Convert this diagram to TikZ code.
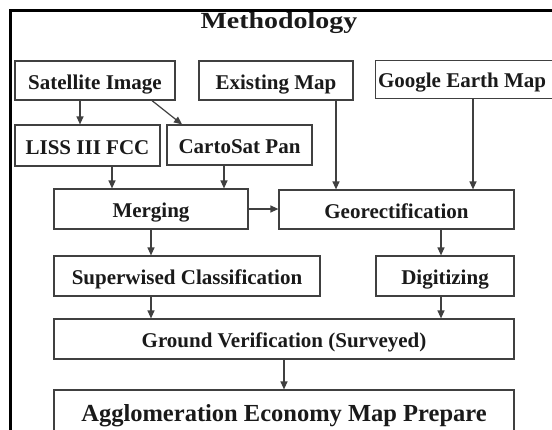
\documentclass[tikz,border=0pt]{standalone}
\usepackage{fontspec}
\setmainfont{Liberation Serif}
\usetikzlibrary{arrows.meta}
\definecolor{ink}{HTML}{1A1A1A}
\definecolor{edge}{HTML}{404040}
\tikzset{
  box/.style={draw=edge, line width=1.2pt, text=ink, font=\fontsize{21}{24}\selectfont\bfseries,
    inner sep=0pt, anchor=center, text height=17pt, text depth=0pt},
  arr/.style={draw=edge, line width=1.2pt, -{Triangle[length=8pt,width=7pt]}},
  frame/.style={draw=black, line width=3pt}
}
\begin{document}
\begin{tikzpicture}[x=1pt,y=-1pt]
\useasboundingbox (0,0) rectangle (552,429);
\clip (0,0) rectangle (552,429);
\fill[white] (0,0) rectangle (552,429);
% frame
\coordinate (ftl) at (10,10);
\coordinate (ftr) at (560,10);
\coordinate (fbl) at (10,440);
\draw[frame] (ftr) -- (ftl) -- (fbl);
% title
\node[text=ink, font=\fontsize{22}{26}\selectfont\bfseries, inner sep=0pt, anchor=base] (title) at (279,28) {\scalebox{1.27}[1.05]{Methodology}};
% boxes
\node[box, minimum width=160pt, minimum height=39pt] (sat) at (95,80.5) {Satellite Image};
\node[box, minimum width=154pt, minimum height=39pt] (exist) at (276,80.5) {Existing Map};
\node[box, draw=none, minimum width=172pt, minimum height=37pt, text height=15pt] (google) at (462,79.5) {Google Earth Map};
\draw[draw=edge, line width=1.2pt] ([xshift=10pt]google.north east) -| (google.south west) -- ([xshift=10pt]google.south east);
\node[box, minimum width=145pt, minimum height=41pt] (liss) at (87.5,145.5) {LISS III FCC};
\node[box, minimum width=145pt, minimum height=40pt] (carto) at (239.5,145) {CartoSat Pan};
\node[box, minimum width=194pt, minimum height=40pt] (merge) at (151,209) {Merging};
\node[box, minimum width=235pt, minimum height=39pt] (geo) at (396.5,209.5) {Georectification};
\node[box, minimum width=266pt, minimum height=40pt] (super) at (187,276) {Superwised Classification};
\node[box, minimum width=138pt, minimum height=40pt] (digit) at (445,276) {Digitizing};
\node[box, minimum width=460pt, minimum height=40pt] (ground) at (284,339) {Ground Verification (Surveyed)};
\node[box, minimum width=460pt, minimum height=46pt, text height=16pt, font=\fontsize{24.5}{28}\selectfont\bfseries] (agglo) at (284,413) {Agglomeration Economy Map Prepare};
% arrows
\draw[arr] ([xshift=-15pt]sat.south) -- ([xshift=-15pt]sat.south |- liss.north);
\draw[arr] ([xshift=57pt]sat.south) -- ([xshift=-57.5pt]carto.north);
\draw[arr] ([xshift=24.5pt]liss.south) -- ([xshift=24.5pt]liss.south |- merge.north);
\draw[arr] ([xshift=-15.5pt]carto.south) -- ([xshift=-15.5pt]carto.south |- merge.north);
\draw[arr] ([xshift=60pt]exist.south) -- ([xshift=60pt]exist.south |- geo.north);
\draw[arr] ([xshift=11pt]google.south) -- ([xshift=11pt]google.south |- geo.north);
\draw[arr] (merge.east) -- (merge.east -| geo.west);
\draw[arr] (merge.south) -- (merge.south |- super.north);
\draw[arr] ([xshift=44.5pt]geo.south) -- ([xshift=44.5pt]geo.south |- digit.north);
\draw[arr] ([xshift=-36pt]super.south) -- ([xshift=-36pt]super.south |- ground.north);
\draw[arr] ([xshift=-4pt]digit.south) -- ([xshift=-4pt]digit.south |- ground.north);
\draw[arr] (ground.south) -- (agglo.north);
\end{tikzpicture}
\end{document}
